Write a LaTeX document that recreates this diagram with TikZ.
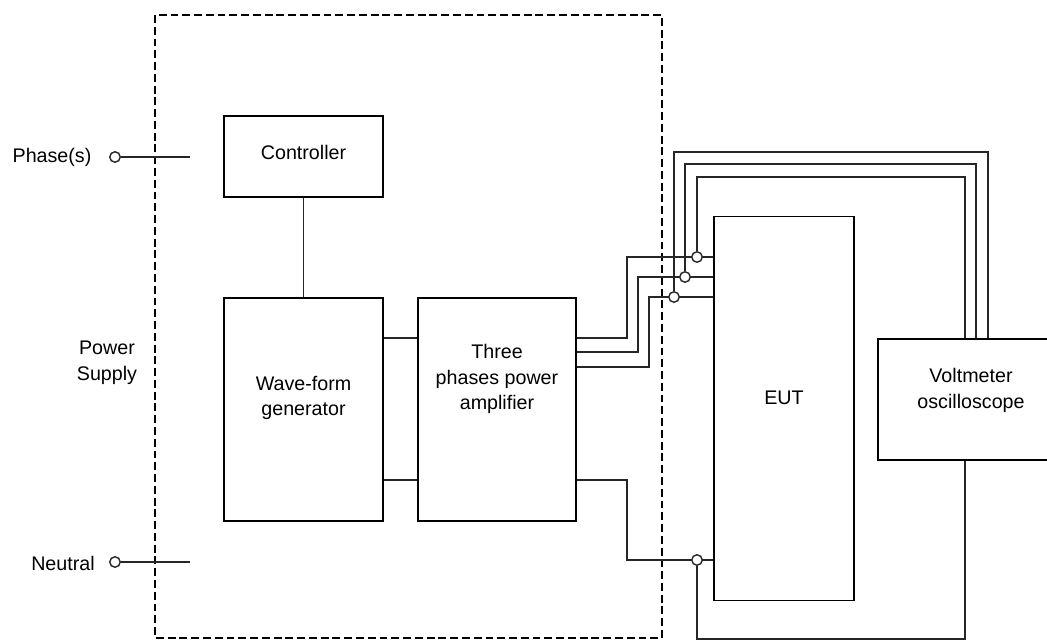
\documentclass[tikz,border=0pt]{standalone}
\usepackage{fontspec}
\setmainfont{Liberation Sans}
\begin{document}
\begin{tikzpicture}[x=0.02cm,y=-0.02cm,
  box/.style={draw=black,line width=0.9pt,inner sep=0pt},
  wire/.style={draw=black!85,line width=0.8pt},
  term/.style={circle,draw=black!85,fill=white,line width=0.8pt,inner sep=0pt,minimum size=0.21cm},
  txt/.style={align=center,font=\fontsize{11.2}{14.7}\selectfont,inner sep=0pt},
  psbox/.style={draw=black,line width=0.9pt,dash pattern=on 4.5pt off 2.2pt}]
\useasboundingbox (0,0) rectangle (1047,641);
\clip (0,0) rectangle (1047,641);
% power supply dashed enclosure
\draw[psbox] (155,15) rectangle (662,638);
% boxes
\node[box,minimum width=159*0.02cm,minimum height=81*0.02cm] (ctrl) at (303.5,156.5) {};
\node[box,minimum width=159*0.02cm,minimum height=223*0.02cm] (wave) at (303.5,409.5) {};
\node[box,minimum width=158*0.02cm,minimum height=223*0.02cm] (amp) at (497,409.5) {};
\node[box,minimum width=140*0.02cm,minimum height=384*0.02cm] (eut) at (784,408.5) {};
\node[box,minimum width=186*0.02cm,minimum height=121*0.02cm] (volt) at (971,399.5) {};
% texts
\node[txt] (ctrltxt) at (303.5,152) {Controller};
\node[txt] (wavetxt) at (303.5,398) {Wave-form\\generator};
\node[txt] (amptxt) at (497,379) {Three\\phases power\\amplifier};
\node[txt] (euttxt) at (784,398) {EUT};
\node[txt] (volttxt) at (971,390) {Voltmeter\\oscilloscope};
\node[txt] (pstxt) at (107,363) {Power\\Supply};
\node[txt] (phtxt) at (52,157) {Phase(s)};
\node[txt] (neutxt) at (63,563) {Neutral};
% level coordinates
\coordinate (y1) at (0,338);
\coordinate (y2) at (0,352);
\coordinate (y3) at (0,367);
\coordinate (y5) at (0,480);
\coordinate (v1) at (627,257);
\coordinate (v2) at (638,277);
\coordinate (v3) at (649,297);
\coordinate (n1) at (627,560);
\coordinate (m1) at (965,177);
\coordinate (m2) at (976,164);
\coordinate (m3) at (988,152);
\coordinate (b1) at (965,639);
\coordinate (phend) at (190,157);
\coordinate (neuend) at (190,562);
% input terminals
\node[term] (phterm) at (115,157) {};
\node[term] (neuterm) at (115,562) {};
\draw[wire] (phterm) -- (phend);
\draw[wire] (neuterm) -- (neuend);
% internal connections
\draw[wire] (ctrl) -- (wave);
\draw[wire] (wave.east |- y1) -- (amp.west |- y1);
\draw[wire] (wave.east |- y5) -- (amp.west |- y5);
% amplifier outputs to EUT
\draw[wire] (amp.east |- y1) -| (v1) -- (eut.west |- v1);
\draw[wire] (amp.east |- y2) -| (v2) -- (eut.west |- v2);
\draw[wire] (amp.east |- y3) -| (v3) -- (eut.west |- v3);
\draw[wire] (amp.east |- y5) -| (n1) -- (eut.west |- n1);
% terminals at EUT
\node[term] (t1) at (697,257) {};
\node[term] (t2) at (685,277) {};
\node[term] (t3) at (674,297) {};
\node[term] (tn) at (697,560) {};
% measurement leads to voltmeter
\draw[wire] (t1.north) |- (m1) -- (m1 |- volt.north);
\draw[wire] (t2.north) |- (m2) -- (m2 |- volt.north);
\draw[wire] (t3.north) |- (m3) -- (m3 |- volt.north);
\draw[wire] (tn.south) |- (b1) -- (b1 |- volt.south);
\end{tikzpicture}
\end{document}
